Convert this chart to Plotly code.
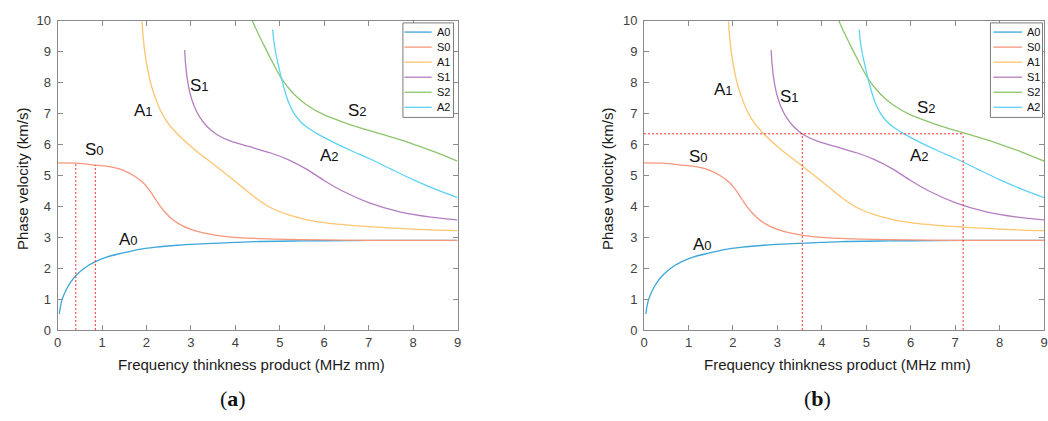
import plotly.graph_objects as go

# ---------------- data ----------------
mode_names = ["A0", "S0", "A1", "S1", "S2", "A2"]
mode_colors = ["#3DA6DA", "#F7967C", "#FDC56C", "#B47EC2", "#8CC56C", "#5CD3F2"]

A0_x = [0.04, 0.06, 0.1, 0.2, 0.3, 0.42, 0.6, 0.85, 1.1, 1.47, 1.8, 2.21, 2.7, 3.33, 4.0, 4.44, 5.5, 6.5, 7.5, 9.0]
A0_y = [0.52, 0.72, 0.98, 1.32, 1.56, 1.77, 2.0, 2.21, 2.36, 2.49, 2.6, 2.68, 2.74, 2.79, 2.83, 2.86, 2.88, 2.89, 2.9, 2.9]

S0_x = [0.0, 0.41, 0.85, 1.2, 1.47, 1.7, 1.91, 2.05, 2.21, 2.32, 2.43, 2.58, 2.73, 3.0, 3.33, 3.8, 4.44, 5.5, 7.0, 9.0]
S0_y = [5.40, 5.39, 5.33, 5.27, 5.17, 5.0, 4.78, 4.55, 4.21, 3.98, 3.79, 3.58, 3.43, 3.25, 3.12, 3.02, 2.96, 2.92, 2.9, 2.9]

A1_x = [1.90, 1.93, 1.97, 2.03, 2.1, 2.2, 2.33, 2.5, 2.72, 3.0, 3.3, 3.56, 4.0, 4.43, 4.8, 5.2, 5.6, 6.0, 7.0, 8.0, 9.0]
A1_y = [9.97, 9.4, 8.9, 8.4, 7.95, 7.5, 7.05, 6.65, 6.3, 5.93, 5.58, 5.3, 4.8, 4.3, 3.95, 3.72, 3.57, 3.47, 3.34, 3.26, 3.21]

S1_x = [2.86, 2.88, 2.92, 2.98, 3.07, 3.2, 3.38, 3.6, 3.9, 4.3, 4.8, 5.2, 5.6, 6.0, 6.4, 7.0, 7.7, 8.4, 9.0]
S1_y = [9.05, 8.6, 8.1, 7.65, 7.25, 6.88, 6.55, 6.3, 6.1, 5.93, 5.72, 5.5, 5.2, 4.83, 4.5, 4.12, 3.82, 3.65, 3.56]

S2_x = [4.38, 4.5, 4.65, 4.82, 5.04, 5.3, 5.6, 6.0, 6.5, 7.0, 7.5, 8.0, 8.5, 9.0]
S2_y = [10.0, 9.62, 9.18, 8.7, 8.12, 7.65, 7.28, 6.95, 6.68, 6.45, 6.24, 6.01, 5.75, 5.46]

A2_x = [4.84, 4.87, 4.91, 4.97, 5.04, 5.12, 5.2, 5.32, 5.49, 5.7, 5.86, 6.2, 6.6, 7.0, 7.5, 8.0, 8.5, 9.0]
A2_y = [9.71, 9.3, 8.95, 8.55, 8.12, 7.7, 7.35, 7.0, 6.7, 6.47, 6.33, 6.07, 5.8, 5.55, 5.2, 4.86, 4.55, 4.28]

series_x = [A0_x, S0_x, A1_x, S1_x, S2_x, A2_x]
series_y = [A0_y, S0_y, A1_y, S1_y, S2_y, A2_y]

# red guide lines
guide_a_x = [0.41, 0.85]
guide_a_top = [5.39, 5.33]
guide_b_level = 6.34
guide_b_x = [3.56, 7.18]

x_ticks = [0, 1, 2, 3, 4, 5, 6, 7, 8, 9]
y_ticks = [0, 1, 2, 3, 4, 5, 6, 7, 8, 9, 10]

# curve labels: (main letter, index, x, y) for each panel
labels_a = [("S", "0", 0.83, 5.82), ("A", "0", 1.6, 2.94), ("A", "1", 1.93, 7.09),
            ("S", "1", 3.19, 7.89), ("S", "2", 6.74, 7.08), ("A", "2", 6.12, 5.64)]
labels_b = [("A", "1", 1.79, 7.76), ("S", "1", 3.28, 7.54), ("S", "2", 6.36, 7.19),
            ("S", "0", 1.23, 5.60), ("A", "2", 6.20, 5.63), ("A", "0", 1.32, 2.76)]

x_title = "Frequency thinkness product (MHz mm)"
y_title = "Phase velocity (km/s)"

# ---------------- layout helpers ----------------
W, H = 1048, 421
FONT = "Arial, Liberation Sans, sans-serif"
AXCOL = "#8a8a8a"
TXT = "#404040"


def px(x):
    return x / W


def py(y):
    return 1 - y / H


fig = go.Figure()

panels = [("x", "y"), ("x2", "y2")]
for xa, ya in panels:
    for name, col, xs, ys in zip(mode_names, mode_colors, series_x, series_y):
        fig.add_trace(go.Scatter(x=xs, y=ys, mode="lines", name=name, xaxis=xa, yaxis=ya,
                                 line=dict(color=col, width=1.3, shape="spline", smoothing=0.9),
                                 showlegend=False, hoverinfo="skip"))

red = dict(color="#FF2A2A", width=1, dash="2px,2px")
for gx, gt in zip(guide_a_x, guide_a_top):
    fig.add_trace(go.Scatter(x=[gx, gx], y=[0, gt], mode="lines", line=red,
                             xaxis="x", yaxis="y", showlegend=False, hoverinfo="skip"))
fig.add_trace(go.Scatter(x=[0, max(guide_b_x)], y=[guide_b_level, guide_b_level], mode="lines",
                         line=red, xaxis="x2", yaxis="y2", showlegend=False, hoverinfo="skip"))
for gx in guide_b_x:
    fig.add_trace(go.Scatter(x=[gx, gx], y=[0, guide_b_level], mode="lines", line=red,
                             xaxis="x2", yaxis="y2", showlegend=False, hoverinfo="skip"))

axis_common = dict(showgrid=False, zeroline=False, showline=True, linecolor=AXCOL, linewidth=1,
                   ticks="inside", ticklen=5, tickcolor=AXCOL, tickwidth=1, mirror="allticks",
                   tickfont=dict(family=FONT, size=13, color=TXT))

ydom = [py(335), py(14)]
fig.update_layout(
    width=W, height=H, margin=dict(l=0, r=0, t=0, b=0),
    paper_bgcolor="white", plot_bgcolor="white", showlegend=False,
    xaxis=dict(domain=[px(54), px(457)], range=[0, 9], tickvals=x_ticks, anchor="y", **axis_common),
    yaxis=dict(domain=ydom, range=[0, 10], tickvals=y_ticks, anchor="x", ticklabelstandoff=3, **axis_common),
    xaxis2=dict(domain=[px(645), 1.0], range=[0, 9], tickvals=x_ticks, anchor="y2", **axis_common),
    yaxis2=dict(domain=ydom, range=[0, 10], tickvals=y_ticks, anchor="x2", ticklabelstandoff=3, **axis_common),
)

ann = []
# axis titles
for cx in (249, 840):
    ann.append(dict(x=px(cx), y=py(370.5), xref="paper", yref="paper", text=x_title, showarrow=False,
                    xanchor="center", yanchor="middle", font=dict(family=FONT, size=15, color="#1a1a1a")))
for cx in (18.5, 608):
    ann.append(dict(x=px(cx), y=py(178), xref="paper", yref="paper", text=y_title, showarrow=False,
                    textangle=-90, xanchor="center", yanchor="middle",
                    font=dict(family=FONT, size=15, color="#1a1a1a")))
# captions
for cx, letter in ((231, "a"), (820, "b")):
    ann.append(dict(x=px(cx), y=py(406), xref="paper", yref="paper", text="(<b>%s</b>)" % letter,
                    showarrow=False, xanchor="center", yanchor="middle",
                    font=dict(family="Liberation Serif, serif", size=22, color="#111111")))
# curve labels
for labs, xr, yr in ((labels_a, "x", "y"), (labels_b, "x2", "y2")):
    for main, idx, lx, ly in labs:
        ann.append(dict(x=lx, y=ly, xref=xr, yref=yr, showarrow=False,
                        text="%s<span style='font-size:13px'>%s</span>" % (main, idx),
                        font=dict(family=FONT, size=17, color="#111111")))

# legends (drawn as boxes with line samples and names)
shapes = []
for bx0, bx1, lx0, lx1, tx in ((402, 453, 403.5, 431, 434), (994, 1046.5, 997, 1026, 1029)):
    shapes.append(dict(type="rect", xref="paper", yref="paper", x0=px(bx0), x1=px(bx1),
                       y0=py(114.5), y1=py(16.5), line=dict(color="#7a7a7a", width=1),
                       fillcolor="white", layer="above"))
    for i, (name, col) in enumerate(zip(mode_names, mode_colors)):
        yy = 26 + 15.6 * i
        shapes.append(dict(type="line", xref="paper", yref="paper", x0=px(lx0), x1=px(lx1),
                           y0=py(yy), y1=py(yy), line=dict(color=col, width=1.3), layer="above"))
        ann.append(dict(x=px(tx), y=py(yy), xref="paper", yref="paper", text=name, showarrow=False,
                        xanchor="left", yanchor="middle", font=dict(family=FONT, size=11, color="#111111")))

fig.update_layout(annotations=ann, shapes=shapes)
fig.write_html("out.html", config={"displayModeBar": False, "staticPlot": True},
               post_script="document.body.style.margin='0px';document.body.style.overflow='hidden';")
